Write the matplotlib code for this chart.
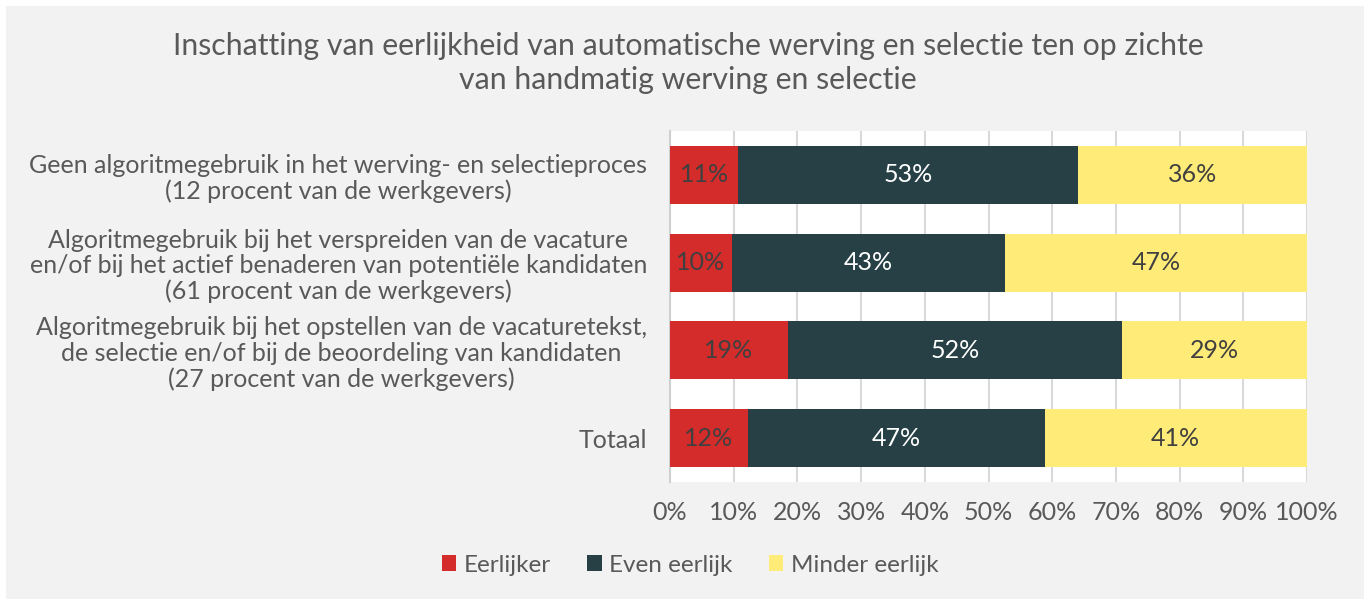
import matplotlib.pyplot as plt
from matplotlib.patches import Rectangle, Patch

plt.rcParams['font.family'] = ['Lato', 'DejaVu Sans']

categories = [
    "Geen algoritmegebruik in het werving- en selectieproces\n(12 procent van de werkgevers)",
    "Algoritmegebruik bij het verspreiden van de vacature\nen/of bij het actief benaderen van potentiële kandidaten\n(61 procent van de werkgevers)",
    "Algoritmegebruik bij het opstellen van de vacaturetekst,\nde selectie en/of bij de beoordeling van kandidaten\n(27 procent van de werkgevers)",
    "Totaal",
]
eerlijker = [11, 10, 19, 12]
even_eerlijk = [53, 43, 52, 47]
minder_eerlijk = [36, 47, 29, 41]
series_names = ["Eerlijker", "Even eerlijk", "Minder eerlijk"]
colors = ["#d42b2b", "#264045", "#ffeb77"]
label_colors = ["#404040", "#ffffff", "#404040"]
# exact shares used for bar lengths (rounded labels above)
shares = [
    [10.7, 53.4, 35.9],
    [9.7, 42.9, 47.4],
    [18.5, 52.4, 29.1],
    [12.2, 46.6, 41.2],
]

text_col = "#595959"
fig = plt.figure(figsize=(13.7, 5.99), dpi=100, facecolor="white")
fig.patches.append(Rectangle((6 / 1370, 0), 1 - 12 / 1370, 1 - 6 / 599,
                             transform=fig.transFigure, facecolor="#f2f2f2",
                             edgecolor="none", zorder=-10))

ax = fig.add_axes([670 / 1370, 1 - 482 / 599, 637 / 1370, 351 / 599])
ax.set_facecolor("white")

ypos = list(range(len(categories)))
labels_all = [eerlijker, even_eerlijk, minder_eerlijk]
for i, y in enumerate(ypos):
    left = 0
    for j in range(3):
        w = shares[i][j]
        ax.barh(y, w, left=left, height=0.66, color=colors[j], zorder=3)
        ax.text(left + w / 2, y, f"{labels_all[j][i]}%", ha="center", va="center",
                color=label_colors[j], fontsize=18, zorder=4)
        left += w

ax.set_xlim(0, 100)
ax.set_ylim(3.5, -0.5)
ax.set_xticks(range(0, 101, 10))
ax.set_xticklabels([f"{v}%" for v in range(0, 101, 10)], fontsize=18, color=text_col)
ax.set_yticks(ypos)
ax.set_yticklabels(categories, fontsize=18, color=text_col, ha="right",
                   multialignment="center", linespacing=1.12)
ax.tick_params(axis="y", pad=23 * 0.72, length=0)
ax.tick_params(axis="x", length=0, pad=14)
ax.grid(axis="x", color="#d9d9d9", linewidth=1.5, zorder=0)
for s in ["top", "right", "bottom"]:
    ax.spines[s].set_visible(False)
ax.spines["left"].set_color("#d0d0d0")
ax.spines["left"].set_linewidth(1.5)

fig.text(688 / 1370, 1 - 63 / 599,
         "Inschatting van eerlijkheid van automatische werving en selectie ten op zichte\nvan handmatig werving en selectie",
         ha="center", va="center", fontsize=21.8, color=text_col, linespacing=1.25)

handles = [Patch(facecolor=c, label=n) for c, n in zip(colors, series_names)]
fig.legend(handles=handles, loc="center", bbox_to_anchor=(690 / 1370, 1 - 565 / 599), ncol=3,
           frameon=False, fontsize=17.5, labelcolor=text_col, handlelength=0.6,
           handleheight=0.6, handletextpad=0.3, columnspacing=1.5)

fig.savefig("out.png", dpi=100, facecolor=fig.get_facecolor())
